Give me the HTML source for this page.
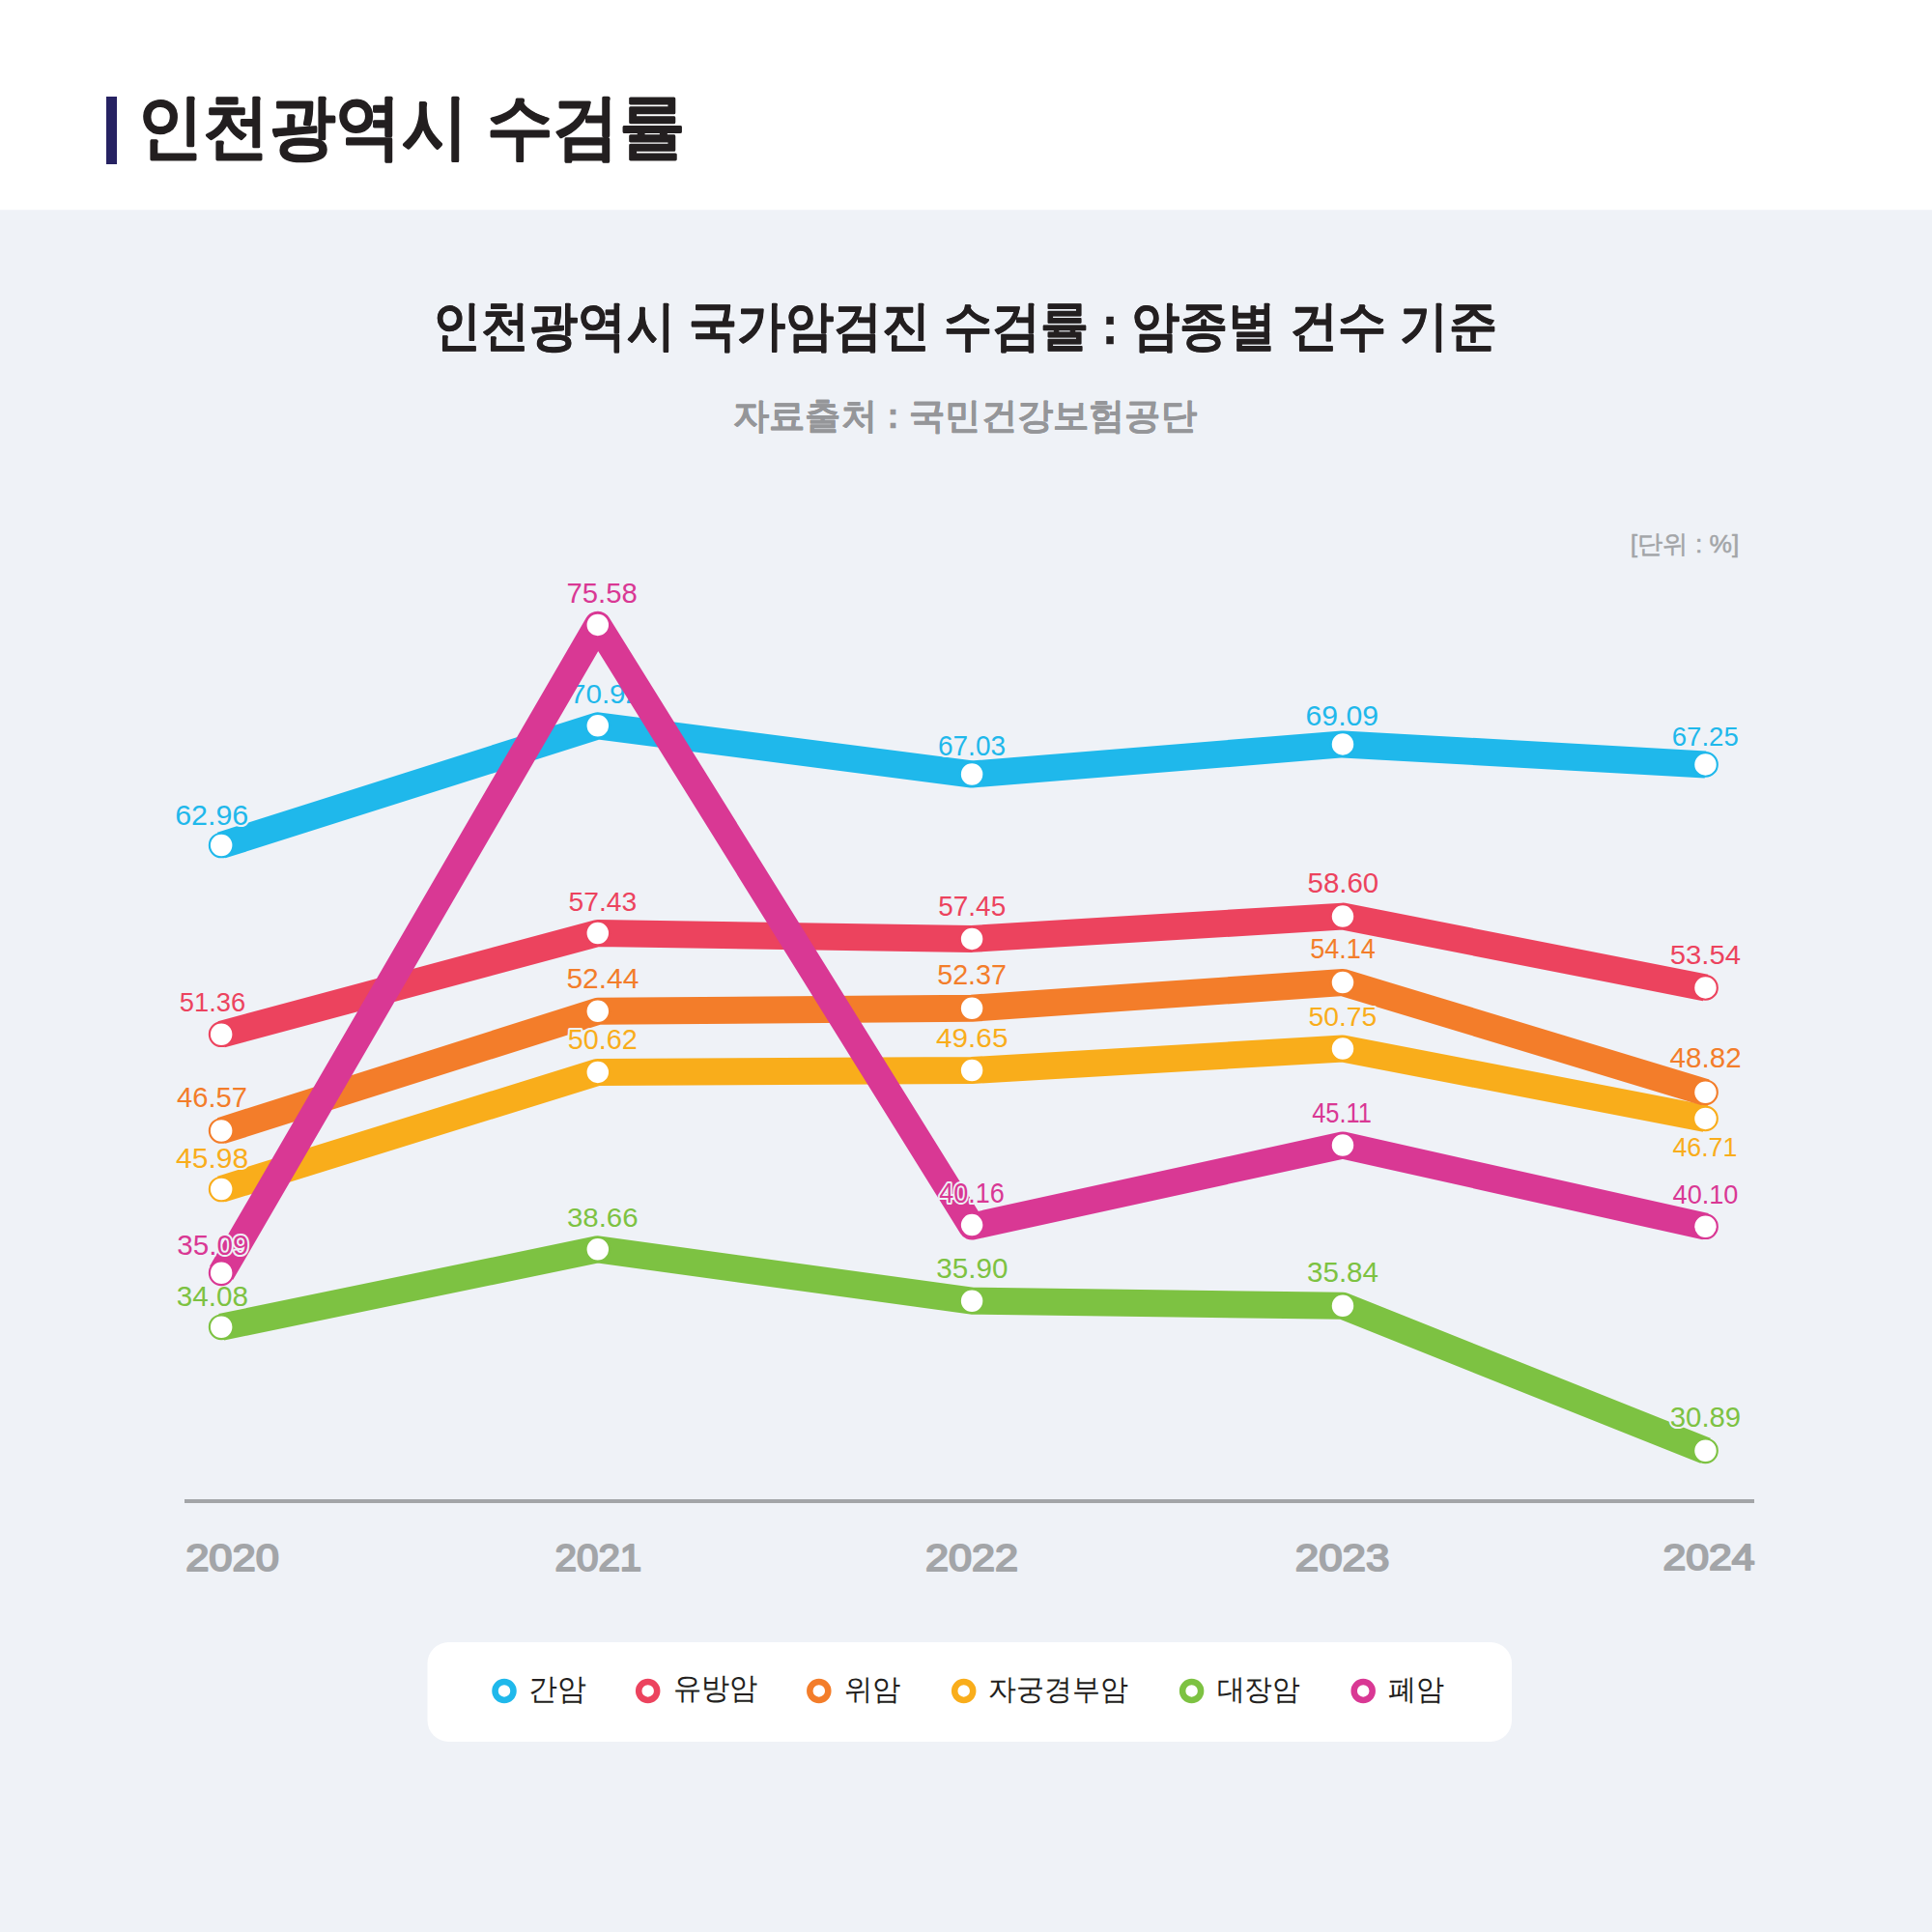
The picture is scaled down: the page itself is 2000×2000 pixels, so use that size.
<!DOCTYPE html><html><head><meta charset="utf-8"><style>html,body{margin:0;padding:0;background:#eff2f7}svg{display:block;font-family:'Liberation Sans',sans-serif;}</style></head><body>
<svg width="2000" height="2000" viewBox="0 0 2000 2000">
<rect x="0" y="0" width="2000" height="217.5" fill="#ffffff"/>
<rect x="0" y="217.5" width="2000" height="1782.5" fill="#eff2f7"/>
<rect x="110" y="100" width="11" height="70" fill="#262262"/>
<text x="141.80" y="155.83" font-size="73.11" textLength="567.30" lengthAdjust="spacingAndGlyphs" font-weight="bold" fill="#231f20" stroke="#231f20" stroke-width="1" stroke-linejoin="round">인천광역시 수검률</text>
<text x="448.30" y="355.70" font-size="54.98" textLength="1101.30" lengthAdjust="spacingAndGlyphs" font-weight="bold" fill="#231f20" stroke="#231f20" stroke-width="0.5" stroke-linejoin="round">인천광역시 국가암검진 수검률 : 암종별 건수 기준</text>
<text x="758.80" y="443.44" font-size="37.18" textLength="480.20" lengthAdjust="spacingAndGlyphs" font-weight="bold" fill="#959699" stroke="#959699" stroke-width="0.3" stroke-linejoin="round">자료출처 : 국민건강보험공단</text>
<text x="1687.70" y="572.27" font-size="26.06" textLength="112.70" lengthAdjust="spacingAndGlyphs" fill="#a3a5a8" stroke="#a3a5a8" stroke-width="0.5" stroke-linejoin="round">[단위 : %]</text>
<text x="192.20" y="1625.51" font-size="38.79" textLength="96.70" lengthAdjust="spacingAndGlyphs" fill="#a3a5a8" stroke="#a3a5a8" stroke-width="2" stroke-linejoin="round">2020</text>
<text x="574.60" y="1625.51" font-size="38.79" textLength="89.60" lengthAdjust="spacingAndGlyphs" fill="#a3a5a8" stroke="#a3a5a8" stroke-width="2" stroke-linejoin="round">2021</text>
<text x="958.00" y="1625.51" font-size="38.79" textLength="96.00" lengthAdjust="spacingAndGlyphs" fill="#a3a5a8" stroke="#a3a5a8" stroke-width="2" stroke-linejoin="round">2022</text>
<text x="1340.80" y="1625.51" font-size="38.79" textLength="97.50" lengthAdjust="spacingAndGlyphs" fill="#a3a5a8" stroke="#a3a5a8" stroke-width="2" stroke-linejoin="round">2023</text>
<text x="1721.50" y="1624.88" font-size="37.47" textLength="95.00" lengthAdjust="spacingAndGlyphs" fill="#a3a5a8" stroke="#a3a5a8" stroke-width="2" stroke-linejoin="round">2024</text>
<rect x="191" y="1552" width="1625" height="4" fill="#a3a5a8"/>
<polyline points="229.15,875.00 618.80,751.30 1006.10,801.50 1390.00,770.40 1765.50,791.40" fill="none" stroke="#1fb8eb" stroke-width="28" stroke-linejoin="round" stroke-linecap="butt"/>
<polyline points="229.15,1070.70 618.80,966.00 1006.10,971.90 1390.00,948.60 1765.50,1022.40" fill="none" stroke="#ec435e" stroke-width="28" stroke-linejoin="round" stroke-linecap="butt"/>
<polyline points="229.15,1231.00 618.80,1109.90 1006.10,1108.00 1390.00,1085.50 1765.50,1157.90" fill="none" stroke="#f9ad1b" stroke-width="28" stroke-linejoin="round" stroke-linecap="butt"/>
<polyline points="229.15,1170.50 618.80,1046.80 1006.10,1043.70 1390.00,1017.00 1765.50,1130.80" fill="none" stroke="#f37d2a" stroke-width="28" stroke-linejoin="round" stroke-linecap="butt"/>
<polyline points="229.15,1373.80 618.80,1293.30 1006.10,1346.70 1390.00,1351.80 1765.50,1501.80" fill="none" stroke="#7dc242" stroke-width="28" stroke-linejoin="round" stroke-linecap="butt"/>
<circle cx="229.15" cy="875.00" r="12.3" fill="#fff" stroke="#1fb8eb" stroke-width="2.1"/><circle cx="618.80" cy="751.30" r="12.3" fill="#fff" stroke="#1fb8eb" stroke-width="2.1"/><circle cx="1006.10" cy="801.50" r="12.3" fill="#fff" stroke="#1fb8eb" stroke-width="2.1"/><circle cx="1390.00" cy="770.40" r="12.3" fill="#fff" stroke="#1fb8eb" stroke-width="2.1"/><circle cx="1765.50" cy="791.40" r="12.3" fill="#fff" stroke="#1fb8eb" stroke-width="2.1"/>
<circle cx="229.15" cy="1070.70" r="12.3" fill="#fff" stroke="#ec435e" stroke-width="2.1"/><circle cx="618.80" cy="966.00" r="12.3" fill="#fff" stroke="#ec435e" stroke-width="2.1"/><circle cx="1006.10" cy="971.90" r="12.3" fill="#fff" stroke="#ec435e" stroke-width="2.1"/><circle cx="1390.00" cy="948.60" r="12.3" fill="#fff" stroke="#ec435e" stroke-width="2.1"/><circle cx="1765.50" cy="1022.40" r="12.3" fill="#fff" stroke="#ec435e" stroke-width="2.1"/>
<circle cx="229.15" cy="1231.00" r="12.3" fill="#fff" stroke="#f9ad1b" stroke-width="2.1"/><circle cx="618.80" cy="1109.90" r="12.3" fill="#fff" stroke="#f9ad1b" stroke-width="2.1"/><circle cx="1006.10" cy="1108.00" r="12.3" fill="#fff" stroke="#f9ad1b" stroke-width="2.1"/><circle cx="1390.00" cy="1085.50" r="12.3" fill="#fff" stroke="#f9ad1b" stroke-width="2.1"/><circle cx="1765.50" cy="1157.90" r="12.3" fill="#fff" stroke="#f9ad1b" stroke-width="2.1"/>
<circle cx="229.15" cy="1170.50" r="12.3" fill="#fff" stroke="#f37d2a" stroke-width="2.1"/><circle cx="618.80" cy="1046.80" r="12.3" fill="#fff" stroke="#f37d2a" stroke-width="2.1"/><circle cx="1006.10" cy="1043.70" r="12.3" fill="#fff" stroke="#f37d2a" stroke-width="2.1"/><circle cx="1390.00" cy="1017.00" r="12.3" fill="#fff" stroke="#f37d2a" stroke-width="2.1"/><circle cx="1765.50" cy="1130.80" r="12.3" fill="#fff" stroke="#f37d2a" stroke-width="2.1"/>
<circle cx="229.15" cy="1373.80" r="12.3" fill="#fff" stroke="#7dc242" stroke-width="2.1"/><circle cx="618.80" cy="1293.30" r="12.3" fill="#fff" stroke="#7dc242" stroke-width="2.1"/><circle cx="1006.10" cy="1346.70" r="12.3" fill="#fff" stroke="#7dc242" stroke-width="2.1"/><circle cx="1390.00" cy="1351.80" r="12.3" fill="#fff" stroke="#7dc242" stroke-width="2.1"/><circle cx="1765.50" cy="1501.80" r="12.3" fill="#fff" stroke="#7dc242" stroke-width="2.1"/>
<text x="181.20" y="854.00" font-size="29.81" textLength="76.00" lengthAdjust="spacingAndGlyphs" fill="#1fb8eb" stroke="#eff2f7" stroke-width="4" stroke-linejoin="round" paint-order="stroke">62.96</text>
<text x="590.00" y="727.72" font-size="28.06" textLength="74.00" lengthAdjust="spacingAndGlyphs" fill="#1fb8eb" stroke="#eff2f7" stroke-width="4" stroke-linejoin="round" paint-order="stroke">70.92</text>
<text x="971.00" y="782.14" font-size="29.81" textLength="70.00" lengthAdjust="spacingAndGlyphs" fill="#1fb8eb" stroke="#eff2f7" stroke-width="4" stroke-linejoin="round" paint-order="stroke">67.03</text>
<text x="1351.60" y="750.89" font-size="29.47" textLength="75.50" lengthAdjust="spacingAndGlyphs" fill="#1fb8eb" stroke="#eff2f7" stroke-width="4" stroke-linejoin="round" paint-order="stroke">69.09</text>
<text x="1730.80" y="772.10" font-size="28.08" textLength="68.90" lengthAdjust="spacingAndGlyphs" fill="#1fb8eb" stroke="#eff2f7" stroke-width="4" stroke-linejoin="round" paint-order="stroke">67.25</text>
<text x="185.80" y="1047.17" font-size="28.48" textLength="68.30" lengthAdjust="spacingAndGlyphs" fill="#ec435e" stroke="#eff2f7" stroke-width="4" stroke-linejoin="round" paint-order="stroke">51.36</text>
<text x="588.60" y="942.51" font-size="28.48" textLength="70.60" lengthAdjust="spacingAndGlyphs" fill="#ec435e" stroke="#eff2f7" stroke-width="4" stroke-linejoin="round" paint-order="stroke">57.43</text>
<text x="971.30" y="947.74" font-size="29.65" textLength="69.90" lengthAdjust="spacingAndGlyphs" fill="#ec435e" stroke="#eff2f7" stroke-width="4" stroke-linejoin="round" paint-order="stroke">57.45</text>
<text x="1353.50" y="924.24" font-size="29.65" textLength="73.70" lengthAdjust="spacingAndGlyphs" fill="#ec435e" stroke="#eff2f7" stroke-width="4" stroke-linejoin="round" paint-order="stroke">58.60</text>
<text x="1728.70" y="998.32" font-size="28.08" textLength="73.30" lengthAdjust="spacingAndGlyphs" fill="#ec435e" stroke="#eff2f7" stroke-width="4" stroke-linejoin="round" paint-order="stroke">53.54</text>
<text x="182.00" y="1208.74" font-size="29.65" textLength="75.20" lengthAdjust="spacingAndGlyphs" fill="#f9ad1b" stroke="#eff2f7" stroke-width="4" stroke-linejoin="round" paint-order="stroke">45.98</text>
<text x="587.80" y="1086.12" font-size="29.65" textLength="72.10" lengthAdjust="spacingAndGlyphs" fill="#f9ad1b" stroke="#eff2f7" stroke-width="4" stroke-linejoin="round" paint-order="stroke">50.62</text>
<text x="969.10" y="1083.54" font-size="28.09" textLength="74.30" lengthAdjust="spacingAndGlyphs" fill="#f9ad1b" stroke="#eff2f7" stroke-width="4" stroke-linejoin="round" paint-order="stroke">49.65</text>
<text x="1354.50" y="1061.71" font-size="28.09" textLength="70.80" lengthAdjust="spacingAndGlyphs" fill="#f9ad1b" stroke="#eff2f7" stroke-width="4" stroke-linejoin="round" paint-order="stroke">50.75</text>
<text x="1731.40" y="1197.18" font-size="28.09" textLength="66.90" lengthAdjust="spacingAndGlyphs" fill="#f9ad1b" stroke="#eff2f7" stroke-width="4" stroke-linejoin="round" paint-order="stroke">46.71</text>
<text x="183.00" y="1146.00" font-size="29.47" textLength="73.00" lengthAdjust="spacingAndGlyphs" fill="#f37d2a" stroke="#eff2f7" stroke-width="4" stroke-linejoin="round" paint-order="stroke">46.57</text>
<text x="586.40" y="1023.00" font-size="29.51" textLength="75.00" lengthAdjust="spacingAndGlyphs" fill="#f37d2a" stroke="#eff2f7" stroke-width="4" stroke-linejoin="round" paint-order="stroke">52.44</text>
<text x="970.20" y="1018.62" font-size="29.81" textLength="71.80" lengthAdjust="spacingAndGlyphs" fill="#f37d2a" stroke="#eff2f7" stroke-width="4" stroke-linejoin="round" paint-order="stroke">52.37</text>
<text x="1356.20" y="992.00" font-size="29.47" textLength="67.70" lengthAdjust="spacingAndGlyphs" fill="#f37d2a" stroke="#eff2f7" stroke-width="4" stroke-linejoin="round" paint-order="stroke">54.14</text>
<text x="1728.60" y="1105.21" font-size="29.54" textLength="74.00" lengthAdjust="spacingAndGlyphs" fill="#f37d2a" stroke="#eff2f7" stroke-width="4" stroke-linejoin="round" paint-order="stroke">48.82</text>
<text x="182.80" y="1352.00" font-size="29.51" textLength="74.20" lengthAdjust="spacingAndGlyphs" fill="#7dc242" stroke="#eff2f7" stroke-width="4" stroke-linejoin="round" paint-order="stroke">34.08</text>
<text x="586.90" y="1269.54" font-size="28.48" textLength="73.70" lengthAdjust="spacingAndGlyphs" fill="#7dc242" stroke="#eff2f7" stroke-width="4" stroke-linejoin="round" paint-order="stroke">38.66</text>
<text x="969.30" y="1323.38" font-size="29.81" textLength="74.10" lengthAdjust="spacingAndGlyphs" fill="#7dc242" stroke="#eff2f7" stroke-width="4" stroke-linejoin="round" paint-order="stroke">35.90</text>
<text x="1353.00" y="1327.00" font-size="29.47" textLength="74.00" lengthAdjust="spacingAndGlyphs" fill="#7dc242" stroke="#eff2f7" stroke-width="4" stroke-linejoin="round" paint-order="stroke">35.84</text>
<text x="1728.80" y="1477.14" font-size="29.81" textLength="73.40" lengthAdjust="spacingAndGlyphs" fill="#7dc242" stroke="#eff2f7" stroke-width="4" stroke-linejoin="round" paint-order="stroke">30.89</text>
<polyline points="229.15,1317.80 618.80,646.90 1006.10,1269.60 1390.00,1185.50 1765.50,1269.70" fill="none" stroke="#d93894" stroke-width="28" stroke-linejoin="round" stroke-linecap="butt"/>
<circle cx="229.15" cy="1317.80" r="12.3" fill="#fff" stroke="#d93894" stroke-width="2.1"/><circle cx="618.80" cy="646.90" r="12.3" fill="#fff" stroke="#d93894" stroke-width="2.1"/><circle cx="1006.10" cy="1268.10" r="12.3" fill="#fff" stroke="#d93894" stroke-width="2.1"/><circle cx="1390.00" cy="1185.50" r="12.3" fill="#fff" stroke="#d93894" stroke-width="2.1"/><circle cx="1765.50" cy="1269.70" r="12.3" fill="#fff" stroke="#d93894" stroke-width="2.1"/>
<text x="183.30" y="1299.00" font-size="29.47" textLength="74.10" lengthAdjust="spacingAndGlyphs" fill="#d93894" stroke="#eff2f7" stroke-width="4" stroke-linejoin="round" paint-order="stroke">35.09</text>
<text x="586.50" y="623.88" font-size="29.65" textLength="73.30" lengthAdjust="spacingAndGlyphs" fill="#d93894" stroke="#eff2f7" stroke-width="4" stroke-linejoin="round" paint-order="stroke">75.58</text>
<text x="972.30" y="1245.24" font-size="29.81" textLength="67.60" lengthAdjust="spacingAndGlyphs" fill="#d93894" stroke="#eff2f7" stroke-width="4" stroke-linejoin="round" paint-order="stroke">40.16</text>
<text x="1358.20" y="1162.42" font-size="29.54" textLength="61.80" lengthAdjust="spacingAndGlyphs" fill="#d93894" stroke="#eff2f7" stroke-width="4" stroke-linejoin="round" paint-order="stroke">45.11</text>
<text x="1731.60" y="1246.33" font-size="28.09" textLength="67.80" lengthAdjust="spacingAndGlyphs" fill="#d93894" stroke="#eff2f7" stroke-width="4" stroke-linejoin="round" paint-order="stroke">40.10</text>
<rect x="442.5" y="1700" width="1122.5" height="103" rx="22" ry="22" fill="#ffffff"/>
<circle cx="522" cy="1750.4" r="9.5" fill="none" stroke="#1fb8eb" stroke-width="6.5"/>
<circle cx="670.7" cy="1750.4" r="9.5" fill="none" stroke="#ec435e" stroke-width="6.5"/>
<circle cx="847.8" cy="1750.4" r="9.5" fill="none" stroke="#f37d2a" stroke-width="6.5"/>
<circle cx="997.7" cy="1750.4" r="9.5" fill="none" stroke="#f9ad1b" stroke-width="6.5"/>
<circle cx="1233.6" cy="1750.4" r="9.5" fill="none" stroke="#7dc242" stroke-width="6.5"/>
<circle cx="1411.2" cy="1750.4" r="9.5" fill="none" stroke="#d93894" stroke-width="6.5"/>
<text x="546.70" y="1758.57" font-size="30.88" textLength="59.80" lengthAdjust="spacingAndGlyphs" fill="#231f20">간암</text>
<text x="696.60" y="1758.49" font-size="30.84" textLength="87.70" lengthAdjust="spacingAndGlyphs" fill="#231f20">유방암</text>
<text x="873.70" y="1758.69" font-size="29.74" textLength="58.60" lengthAdjust="spacingAndGlyphs" fill="#231f20">위암</text>
<text x="1023.10" y="1758.69" font-size="29.74" textLength="144.90" lengthAdjust="spacingAndGlyphs" fill="#231f20">자궁경부암</text>
<text x="1259.70" y="1758.69" font-size="29.74" textLength="86.40" lengthAdjust="spacingAndGlyphs" fill="#231f20">대장암</text>
<text x="1437.20" y="1758.69" font-size="29.74" textLength="58.10" lengthAdjust="spacingAndGlyphs" fill="#231f20">폐암</text>
</svg></body></html>
